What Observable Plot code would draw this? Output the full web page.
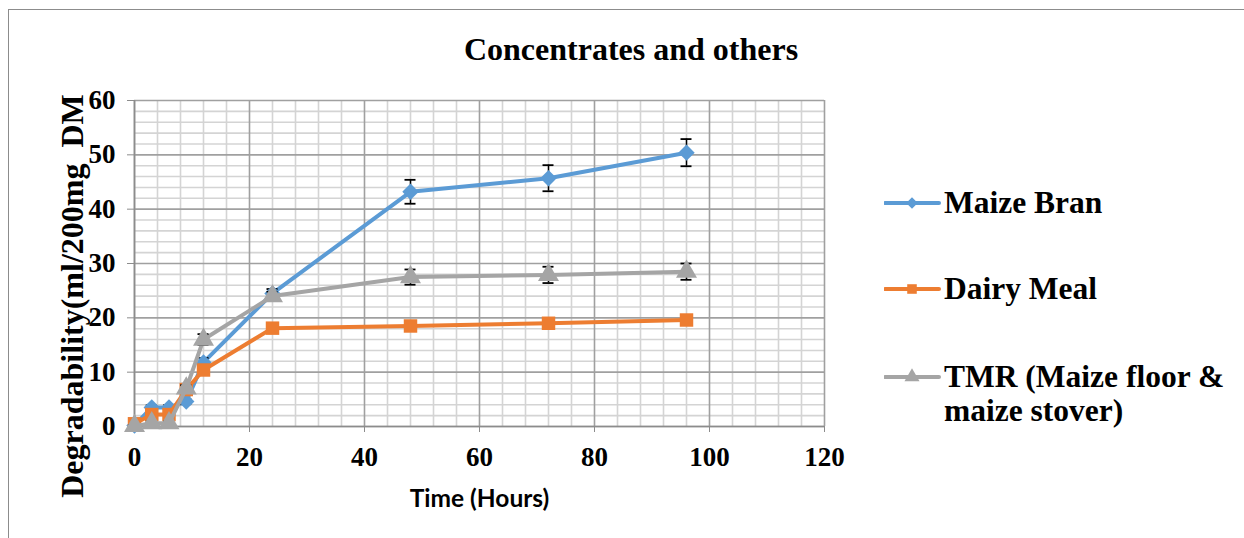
<!DOCTYPE html>
<html>
<head>
<meta charset="utf-8">
<script src="https://cdn.jsdelivr.net/npm/d3@7"></script>
<script src="https://cdn.jsdelivr.net/npm/@observablehq/plot@0.6"></script>
<style>
  html, body { margin: 0; padding: 0; background: #fff; overflow: hidden; }
  #wrap { position: relative; width: 1244px; height: 538px; overflow: hidden; }
  #frame { position: absolute; left: 8px; top: 9px; width: 1300px; height: 600px; border: 1.5px solid #8c8c8c; box-sizing: border-box; }
  #chart { position: absolute; left: 0; top: 0; }
  #title { position: absolute; left: 0; top: 33px; width: 1262px; text-align: center;
           font: bold 32px "Liberation Serif", "Times New Roman", serif; line-height: 1; color: #000; }
  #ylabel { position: absolute; left: 72px; top: 296px; width: 0; height: 0; }
  #ylabel div { position: absolute; left: 0; top: 0; transform: translate(-50%, -50%) rotate(-90deg);
           font: bold 32px "Liberation Serif", "Times New Roman", serif; line-height: 1; white-space: pre; color: #000; }
  .leg { position: absolute; left: 884px; font: bold 31.5px "Liberation Serif", "Times New Roman", serif; line-height: 34px; color: #000; }
  .leg svg { position: absolute; left: 0; }
  .leg span { position: absolute; left: 60px; white-space: nowrap; }
  #chart svg [aria-label="y-axis tick label"] text,
  #chart svg [aria-label="x-axis tick label"] text { font: bold 27px "Liberation Serif", "Times New Roman", serif; fill: #000; }
  #chart svg [aria-label="x-axis label"] text { font: bold 24.5px Lato, "Open Sans", sans-serif; fill: #000; }
</style>
</head>
<body>
<div id="wrap">
  <div id="frame"></div>
  <div id="chart"></div>
  <div id="title"></div>
  <div id="ylabel"><div></div></div>
  <div id="legend"></div>
</div>
<script>
// ---- data ----
const time = [0, 3, 6, 9, 12, 24, 48, 72, 96];
const maizeBran    = [0.2, 3.5, 3.5, 4.6, 11.8, 24.5, 43.2, 45.7, 50.4];
const maizeBranErr = [0.2, 0.4, 0.4, 0.5, 0.8, 0.8, 2.2, 2.4, 2.5];
const dairyMeal    = [0.5, 2.2, 2.2, 6.8, 10.4, 18.1, 18.5, 19.0, 19.6];
const dairyMealErr = [0.2, 0.3, 0.3, 0.4, 0.5, 0.4, 0.4, 0.4, 0.5];
const tmr          = [0.1, 0.6, 0.6, 7.0, 16.0, 24.0, 27.5, 27.9, 28.5];
const tmrErr       = [0.2, 0.3, 0.3, 0.6, 1.0, 0.8, 1.4, 1.5, 1.5];

const seriesNames = ["Maize Bran", "Dairy Meal", "TMR (Maize floor & maize stover)"];
const seriesLegend = ["Maize Bran", "Dairy Meal", "TMR (Maize floor &<br>maize stover)"];
const seriesColors = ["#5B9BD5", "#ED7D31", "#A5A5A5"];
const seriesSymbols = ["diamond2", "square", "triangle"];
const seriesR = [7.4, 7.6, 7.8];
const legendR = [5.2, 5.4, 5.6];

const xTicks = [0, 20, 40, 60, 80, 100, 120];
const yTicks = [0, 10, 20, 30, 40, 50, 60];
const xMinor = [4, 8, 12, 16, 24, 28, 32, 36, 44, 48, 52, 56, 64, 68, 72, 76, 84, 88, 92, 96, 104, 108, 112, 116];
const yMinor = [2, 4, 6, 8, 12, 14, 16, 18, 22, 24, 26, 28, 32, 34, 36, 38, 42, 44, 46, 48, 52, 54, 56, 58];

const titleText = "Concentrates and others";
const xLabel = "Time (Hours)";
const yLabel = "Degradability(ml/200mg  DM";

// ---- build table ----
const valuesList = [maizeBran, dairyMeal, tmr];
const errList = [maizeBranErr, dairyMealErr, tmrErr];
const rows = [];
seriesNames.forEach((s, si) => {
  time.forEach((t, i) => rows.push({series: s, si, t, v: valuesList[si][i], e: errList[si][i]}));
});

const marks = [
  Plot.gridY(yMinor, {stroke: "#d4d4d4", strokeOpacity: 1, strokeWidth: 1.6}),
  Plot.gridX(xMinor, {stroke: "#d4d4d4", strokeOpacity: 1, strokeWidth: 1.6}),
  Plot.gridY(yTicks, {stroke: "#a0a0a0", strokeOpacity: 1, strokeWidth: 1.6}),
  Plot.gridX(xTicks, {stroke: "#a0a0a0", strokeOpacity: 1, strokeWidth: 1.6}),
  Plot.ruleX([0], {stroke: "#8c8c8c", strokeWidth: 1.6}),
  Plot.ruleY([0], {stroke: "#8c8c8c", strokeWidth: 1.6}),
  Plot.axisY({ticks: yTicks, tickSize: 7, tickPadding: 12, stroke: "#8c8c8c", label: null}),
  Plot.axisX({ticks: xTicks, tickSize: 6, tickPadding: 14, stroke: "#8c8c8c", label: xLabel,
              labelAnchor: "center", labelArrow: "none", labelOffset: 80})
];

seriesNames.forEach((s, si) => {
  const data = rows.filter(d => d.si === si);
  marks.push(
    Plot.line(data, {x: "t", y: "v", stroke: seriesColors[si], strokeWidth: 4, strokeLinejoin: "round"}),
    Plot.ruleX(data, {x: "t", y1: d => d.v - d.e, y2: d => d.v + d.e, stroke: "#000", strokeWidth: 1.5}),
    Plot.ruleY(data, {y: d => d.v + d.e, x1: "t", x2: "t", insetLeft: -5.5, insetRight: -5.5, stroke: "#000", strokeWidth: 1.8}),
    Plot.ruleY(data, {y: d => d.v - d.e, x1: "t", x2: "t", insetLeft: -5.5, insetRight: -5.5, stroke: "#000", strokeWidth: 1.8}),
    Plot.dot(data, {x: "t", y: "v", symbol: () => seriesSymbols[si], r: seriesR[si], fill: seriesColors[si], stroke: "none"})
  );
});

const chart = Plot.plot({
  width: 1244,
  height: 538,
  marginLeft: 134,
  marginRight: 420,
  marginTop: 100,
  marginBottom: 112,
  x: {type: "linear", domain: [0, 120]},
  y: {type: "linear", domain: [0, 60]},
  symbol: {type: "identity"},
  marks
});
document.getElementById("chart").appendChild(chart);
document.getElementById("title").textContent = titleText;
document.querySelector("#ylabel div").textContent = yLabel;

// ---- legend ----
const legendY = [186, 272, 360];
const leg = document.getElementById("legend");
seriesNames.forEach((s, si) => {
  const div = document.createElement("div");
  div.className = "leg";
  div.style.top = legendY[si] + "px";
  const sym = d3.symbol(si === 0 ? d3.symbolDiamond2 : si === 1 ? d3.symbolSquare : d3.symbolTriangle, legendR[si] ** 2 * Math.PI)();
  div.innerHTML = `<svg width="60" height="34" style="top:0"><line x1="1" x2="55" y1="17" y2="17" stroke="${seriesColors[si]}" stroke-width="4" stroke-linecap="round"/><path d="${sym}" transform="translate(28,17)" fill="${seriesColors[si]}"/></svg><span>${seriesLegend[si]}</span>`;
  leg.appendChild(div);
});
</script>
</body>
</html>
